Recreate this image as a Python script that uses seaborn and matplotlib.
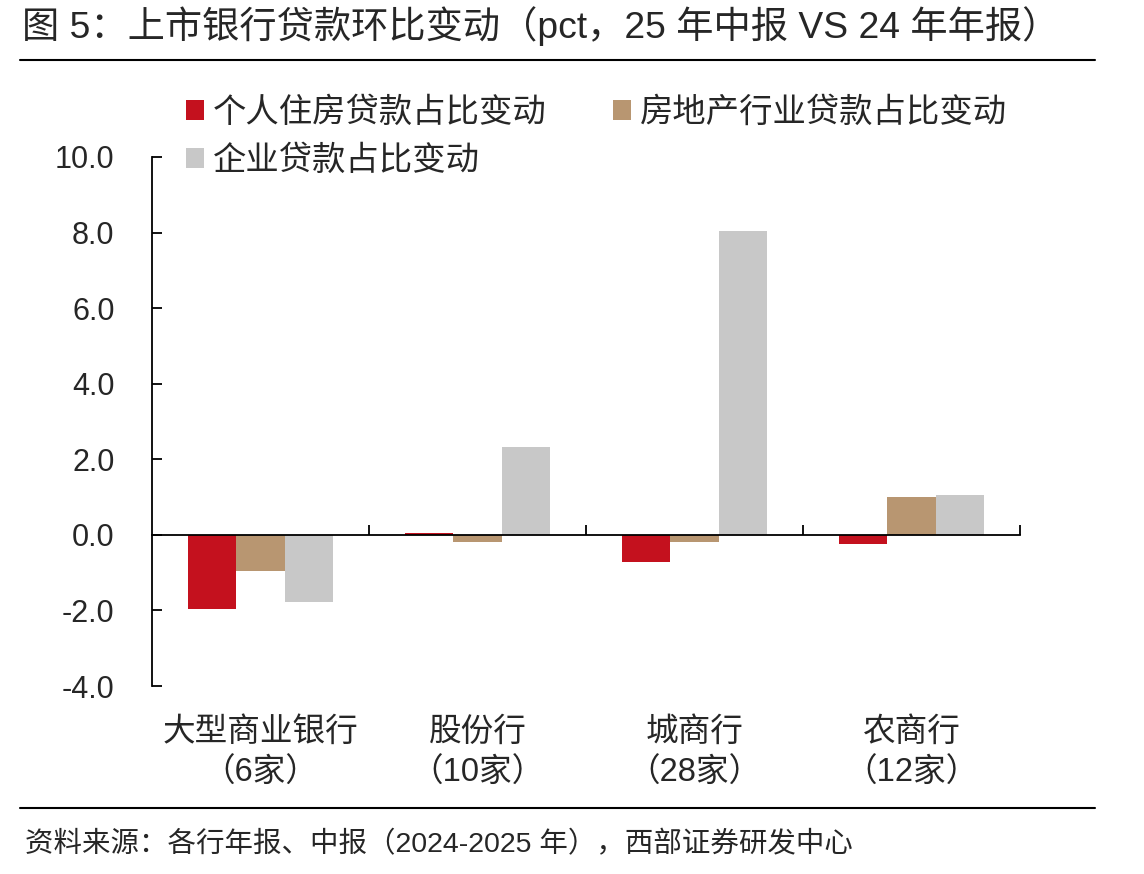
import pandas as pd
import matplotlib
matplotlib.use("Agg")
import matplotlib.pyplot as plt
import matplotlib.transforms as mtransforms
import seaborn as sns

# 数据
categories = ["大型商业银行\n（6家）", "股份行\n（10家）", "城商行\n（28家）", "农商行\n（12家）"]
series_names = ["个人住房贷款占比变动", "房地产行业贷款占比变动", "企业贷款占比变动"]
housing = [-1.95, 0.05, -0.73, -0.24]
real_estate = [-0.95, -0.18, -0.19, 1.00]
corporate = [-1.79, 2.33, 8.05, 1.05]

colors = ["#C4111E", "#B89671", "#C8C8C8"]

df = pd.DataFrame({
    "类别": categories * 3,
    "系列": [series_names[0]] * 4 + [series_names[1]] * 4 + [series_names[2]] * 4,
    "数值": housing + real_estate + corporate,
})

sns.set_theme(style="white")
plt.rcParams["font.family"] = ["Liberation Sans", "Noto Sans CJK SC"]
plt.rcParams["axes.unicode_minus"] = False

fig = plt.figure(figsize=(11.44, 8.74), dpi=100)
ax = fig.add_axes([152 / 1144, 1 - 686 / 874, (1020 - 152) / 1144, (686 - 157) / 874])

sns.barplot(
    data=df, x="类别", y="数值", hue="系列",
    palette=colors, saturation=1, width=0.67, gap=0, linewidth=0, edgecolor="none",
    ax=ax,
)

# 坐标轴
ax.set_xlim(-0.5, 3.5)
ax.set_ylim(-4, 10)
ax.set_yticks([-4, -2, 0, 2, 4, 6, 8, 10])
ax.set_yticklabels([f"{v:.1f}" for v in [-4, -2, 0, 2, 4, 6, 8, 10]])
ax.set_xticks([0.5, 1.5, 2.5, 3.5])
ax.set_xticklabels([])
ax.set_xlabel("")
ax.set_ylabel("")
ax.spines["top"].set_visible(False)
ax.spines["right"].set_visible(False)
ax.spines["bottom"].set_position(("data", 0))
for s in ["left", "bottom"]:
    ax.spines[s].set_color("black")
    ax.spines[s].set_linewidth(1.3)
ax.tick_params(axis="y", direction="in", length=7, width=1.3, color="black",
               labelsize=22, pad=27, left=True)
ax.tick_params(axis="x", direction="in", length=7, width=1.3, color="black", bottom=True)

# 类别标签
trans = mtransforms.blended_transform_factory(ax.transData, fig.transFigure)
for i, lab in enumerate(categories):
    line1, line2 = lab.split("\n")
    ax.text(i, 1 - 732 / 874, line1, transform=trans, ha="center", va="center", fontsize=23.5)
    ax.text(i, 1 - 773 / 874, line2, transform=trans, ha="center", va="center", fontsize=23.5)

# 图例
handles, labels = ax.get_legend_handles_labels()
order = [0, 2, 1]
ax.legend(
    [handles[i] for i in order], [labels[i] for i in order],
    ncol=2, frameon=False, fontsize=24,
    loc="upper left", bbox_to_anchor=(186 / 1144, 1 - 97 / 874), bbox_transform=fig.transFigure,
    handlelength=0.55, handleheight=0.55, handletextpad=0.25, columnspacing=2.0,
    labelspacing=0.5, borderaxespad=0, borderpad=0,
)

# 标题与来源
fig.text(22 / 1144, 1 - 26 / 874, "图 5：上市银行贷款环比变动（pct，25 年中报 VS 24 年年报）",
         ha="left", va="center", fontsize=26.8)
fig.add_artist(plt.Line2D([20 / 1144, 1095 / 1144], [1 - 60 / 874, 1 - 60 / 874],
                          color="black", linewidth=1.5, transform=fig.transFigure))
fig.add_artist(plt.Line2D([20 / 1144, 1095 / 1144], [1 - 808 / 874, 1 - 808 / 874],
                          color="black", linewidth=1.5, transform=fig.transFigure))
fig.text(25 / 1144, 1 - 845 / 874, "资料来源：各行年报、中报（2024-2025 年），西部证券研发中心",
         ha="left", va="center", fontsize=20.5)

fig.savefig("out.png", dpi=100, facecolor="white")
